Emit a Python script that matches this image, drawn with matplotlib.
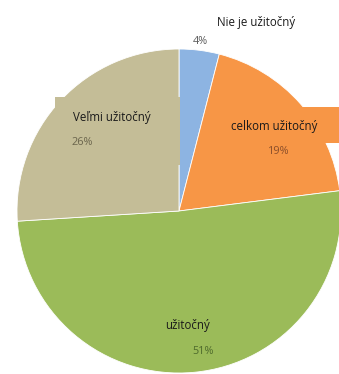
import matplotlib.pyplot as plt
from matplotlib.patches import Rectangle

labels = ['Nie je užitočný', 'celkom užitočný', 'užitočný', 'Veľmi užitočný']
values = [4, 19, 51, 26]
colors = ['#8db4e2', '#f79646', '#9bbb59', '#c4bd97']
pct_colors = ['#5a5a5a', '#8a4e2a', '#4e6a2c', '#6a644c']

W, H = 339, 374
plt.rcParams['font.family'] = ['Open Sans', 'DejaVu Sans']

fig = plt.figure(figsize=(W / 100, H / 100), dpi=100)
ax = fig.add_axes([0, 0, 1, 1])

def py(y):
    # pixel row (from top) -> data y
    return H - y

cx, cy, r = 179, 211, 162
ax.pie(values, colors=colors, startangle=90, counterclock=False,
       center=(cx, py(cy)), radius=r,
       wedgeprops=dict(edgecolor='white', linewidth=0.6))

# filled label boxes like in the original chart
ax.add_patch(Rectangle((55, py(165)), 125, 68, facecolor=colors[3],
                       edgecolor='none', zorder=3))
ax.add_patch(Rectangle((222, py(143)), 125, 36, facecolor=colors[1],
                       edgecolor='none', zorder=3))

# name label, percent label positions (pixel coords)
spots = [((256, 22, 'center'), (200, 41, 'center')),
         ((274, 126, 'center'), (279, 151, 'center')),
         ((188, 326, 'center'), (203, 352, 'center')),
         ((73, 117, 'left'), (72, 142, 'left'))]

for lab, v, pc, (n, p) in zip(labels, values, pct_colors, spots):
    ax.text(n[0], py(n[1]), lab, ha=n[2], va='center', fontsize=8.3,
            color='#1a1a1a', zorder=4)
    ax.text(p[0], py(p[1]), f'{v}%', ha=p[2], va='center', fontsize=7.8,
            color=pc, zorder=4)

ax.set_xlim(0, W)
ax.set_ylim(0, H)
ax.set_aspect('auto')
ax.axis('off')

fig.savefig('out.png', dpi=100)
